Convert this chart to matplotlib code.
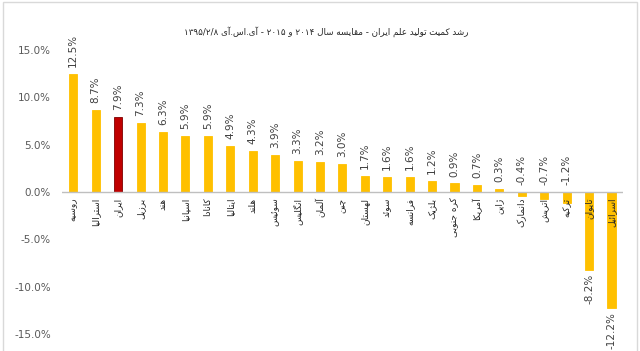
import re
import matplotlib
matplotlib.use("Agg")
import matplotlib.pyplot as plt
from matplotlib.patches import Rectangle
from matplotlib.ticker import FuncFormatter

plt.rcParams['font.family'] = ['DejaVu Sans']

title = "رشد کمیت تولید علم ایران - مقایسه سال ۲۰۱۴ و ۲۰۱۵ - آی.اس.آی ۱۳۹۵/۲/۸"
countries = ["روسیه", "استرالیا", "ایران", "برزیل", "هند", "اسپانیا", "کانادا",
             "ایتالیا", "هلند", "سوئیس", "انگلیس", "آلمان", "چین", "لهستان",
             "سوئد", "فرانسه", "بلژیک", "کره جنوبی", "آمریکا", "ژاپن",
             "دانمارک", "اتریش", "ترکیه", "تایوان", "اسرائیل"]
growth = [12.5, 8.7, 7.9, 7.3, 6.3, 5.9, 5.9, 4.9, 4.3, 3.9, 3.3, 3.2, 3.0,
          1.7, 1.6, 1.6, 1.2, 0.9, 0.7, 0.3, -0.4, -0.7, -1.2, -8.2, -12.2]
highlight = "ایران"

# presentation forms: isolated, final, initial, medial (right-joiners only iso/final)
FORMS = {
    'ا': (0xFE8D, 0xFE8E), 'آ': (0xFE81, 0xFE82),
    'د': (0xFEA9, 0xFEAA), 'ذ': (0xFEAB, 0xFEAC), 'ر': (0xFEAD, 0xFEAE),
    'ز': (0xFEAF, 0xFEB0), 'ژ': (0xFB8A, 0xFB8B), 'و': (0xFEED, 0xFEEE),
    'ب': (0xFE8F, 0xFE90, 0xFE91, 0xFE92), 'پ': (0xFB56, 0xFB57, 0xFB58, 0xFB59),
    'ت': (0xFE95, 0xFE96, 0xFE97, 0xFE98), 'ث': (0xFE99, 0xFE9A, 0xFE9B, 0xFE9C),
    'ج': (0xFE9D, 0xFE9E, 0xFE9F, 0xFEA0), 'چ': (0xFB7A, 0xFB7B, 0xFB7C, 0xFB7D),
    'ح': (0xFEA1, 0xFEA2, 0xFEA3, 0xFEA4), 'خ': (0xFEA5, 0xFEA6, 0xFEA7, 0xFEA8),
    'س': (0xFEB1, 0xFEB2, 0xFEB3, 0xFEB4), 'ش': (0xFEB5, 0xFEB6, 0xFEB7, 0xFEB8),
    'ص': (0xFEB9, 0xFEBA, 0xFEBB, 0xFEBC), 'ض': (0xFEBD, 0xFEBE, 0xFEBF, 0xFEC0),
    'ط': (0xFEC1, 0xFEC2, 0xFEC3, 0xFEC4), 'ظ': (0xFEC5, 0xFEC6, 0xFEC7, 0xFEC8),
    'ع': (0xFEC9, 0xFECA, 0xFECB, 0xFECC), 'غ': (0xFECD, 0xFECE, 0xFECF, 0xFED0),
    'ف': (0xFED1, 0xFED2, 0xFED3, 0xFED4), 'ق': (0xFED5, 0xFED6, 0xFED7, 0xFED8),
    'ک': (0xFB8E, 0xFB8F, 0xFB90, 0xFB91), 'گ': (0xFB92, 0xFB93, 0xFB94, 0xFB95),
    'ل': (0xFEDD, 0xFEDE, 0xFEDF, 0xFEE0), 'م': (0xFEE1, 0xFEE2, 0xFEE3, 0xFEE4),
    'ن': (0xFEE5, 0xFEE6, 0xFEE7, 0xFEE8), 'ه': (0xFEE9, 0xFEEA, 0xFEEB, 0xFEEC),
    'ی': (0xFBFC, 0xFBFD, 0xFBFE, 0xFBFF), 'ئ': (0xFE89, 0xFE8A, 0xFE8B, 0xFE8C),
}


def fa(s):
    # minimal Persian shaping + visual (RTL) ordering, numbers kept LTR
    out = []
    for i, c in enumerate(s):
        if c not in FORMS:
            out.append(c)
            continue
        f = FORMS[c]
        prev = s[i - 1] if i > 0 else ''
        nxt = s[i + 1] if i + 1 < len(s) else ''
        jp = prev in FORMS and len(FORMS[prev]) == 4
        jn = len(f) == 4 and nxt in FORMS
        idx = 3 if (jp and jn) else 1 if jp else 2 if jn else 0
        out.append(chr(f[idx]))
    tokens = re.findall(r'[0-9۰-۹/]+|.', ''.join(out))
    return ''.join(tokens[::-1])


fig = plt.figure(figsize=(6.4, 3.51), dpi=100)
ax = fig.add_axes([0.097, 0.048, 0.876, 0.81])

x = range(len(growth))
colors = ['#C00000' if c == highlight else '#FFC000' for c in countries]
edges = ['#7f0000' if c == highlight else '#FFC000' for c in countries]
ax.bar(x, growth, width=0.36, color=colors, edgecolor=edges, linewidth=0.6, zorder=2)

ax.set_xlim(-0.5, len(growth) - 0.5)
ax.set_ylim(-15, 15)
ax.set_yticks([-15, -10, -5, 0, 5, 10, 15])
ax.yaxis.set_major_formatter(FuncFormatter(lambda v, p: f"{v:.1f}%"))
ax.tick_params(axis='y', length=0, labelsize=7.5, labelcolor='#595959', pad=8)
ax.set_xticks([])
for s in ['top', 'right', 'left', 'bottom']:
    ax.spines[s].set_visible(False)
ax.axhline(0, color='#bfbfbf', linewidth=1, zorder=3)

for i, v in enumerate(growth):
    txt = f"{v:.1f}%"
    if v >= -2:
        ax.annotate(txt, (i, max(v, 0)), xytext=(0, 5), textcoords='offset points',
                    rotation=90, ha='center', va='bottom', fontsize=7.5, color='#404040')
    else:
        ax.annotate(txt, (i, v), xytext=(0, -3), textcoords='offset points',
                    rotation=90, ha='center', va='top', fontsize=7.5, color='#404040')
    ax.annotate(fa(countries[i]), (i, 0), xytext=(0, -4), textcoords='offset points',
                rotation=90, ha='center', va='top', fontsize=6.5, color='#262626')

fig.text(0.51, 0.91, fa(title), ha='center', va='center', fontsize=6.3, color='#262626')
fig.patches.append(Rectangle((0.005, -0.02), 0.99, 1.014, transform=fig.transFigure,
                             fill=False, edgecolor='#d9d9d9', linewidth=1))

fig.savefig("out.png", dpi=100)
